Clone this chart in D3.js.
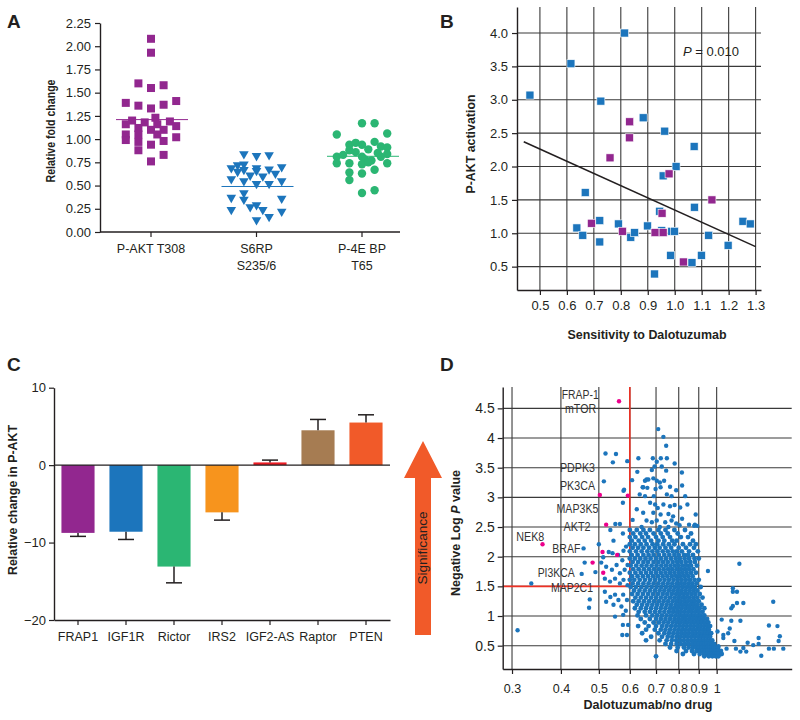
<!DOCTYPE html>
<html><head><meta charset="utf-8">
<script src="https://cdn.jsdelivr.net/npm/d3@7"></script>
<style>body{margin:0;background:#fff}svg{display:block}</style>
</head><body><svg id="c" width="800" height="720"></svg>
<script>
// ---------- Panel A data ----------
const aCatLines = [["P-AKT T308"], ["S6RP", "S235/6"], ["P-4E BP", "T65"]];
const aTicks = [0, 0.25, 0.5, 0.75, 1, 1.25, 1.5, 1.75, 2, 2.25];
// [swarm column, value]
const aktT308 = [[0,2.08],[0,1.93],[-2,1.60],[0,1.55],[2,1.58],[-4,1.39],[-2,1.36],[0,1.33],[2,1.37],[4,1.41],[0.7,1.23],[-3,1.20],[-4,1.16],[-1,1.18],[1,1.16],[3,1.19],[-2,1.12],[0,1.10],[2,1.10],[4,1.14],[-4,1.05],[-2,1.05],[1,1.05],[-4,0.99],[2,0.98],[4,1.02],[0,0.94],[-2,0.88],[2,0.83],[0,0.76],[-2,0.97]];
const s6rp = [[-2,0.84],[0,0.82],[2,0.83],[-4,0.69],[-2,0.73],[4,0.70],[-3,0.65],[-2,0.67],[-1,0.61],[0,0.66],[1,0.60],[2,0.675],[3,0.63],[-4,0.57],[-2,0.55],[0,0.52],[2,0.52],[4,0.55],[-4,0.37],[-2,0.42],[-2,0.35],[-1,0.27],[0,0.29],[1,0.24],[4,0.36],[-4,0.24],[4,0.22],[2,0.165],[0,0.13],[0,0.69],[-3,0.72]];
const p4ebp = [[0,1.17],[2,1.17],[-4,1.05],[4,1.06],[-2,0.94],[-1,0.96],[0,0.94],[2,0.97],[3,0.92],[4,0.91],[-2,0.88],[-1,0.86],[1,0.89],[2.5,0.85],[4,0.84],[-4,0.81],[-3,0.83],[0,0.81],[0.5,0.78],[1.5,0.77],[3,0.81],[-4,0.74],[-2,0.74],[0,0.73],[1,0.75],[4,0.74],[-2,0.64],[0,0.63],[2,0.67],[-2,0.56],[0,0.42],[2,0.45]];
const aMedians = [1.21, 0.49, 0.815];

// ---------- Panel B data ----------
const bXTicks = [0.5,0.6,0.7,0.8,0.9,1.0,1.1,1.2,1.3];
const bYTicks = [0.5,1.0,1.5,2.0,2.5,3.0,3.5,4.0];
const bBlue = [[0.463,3.07],[0.615,3.54],[0.814,4.00],[0.726,2.98],[0.883,2.73],[0.963,2.53],[1.072,2.30],[1.005,2.00],[0.957,1.86],[0.668,1.61],[1.073,1.39],[0.944,1.33],[0.637,1.08],[0.659,0.97],[0.722,1.19],[0.722,0.87],[0.791,1.14],[0.837,0.94],[0.851,1.01],[0.899,1.11],[0.952,1.04],[0.989,1.03],[0.999,1.03],[0.985,0.67],[0.925,0.39],[1.064,0.56],[1.099,0.67],[1.126,0.97],[1.198,0.82],[1.253,1.18],[1.280,1.14]];
const bPurple = [[0.833,2.67],[0.832,2.43],[0.760,2.13],[0.979,1.89],[1.138,1.50],[0.953,1.30],[0.691,1.15],[0.806,1.03],[0.927,1.01],[0.957,1.01],[1.032,0.57]];
const bTrendX = [0.44, 1.30];
const bTrendY = [2.37, 0.80];

// ---------- Panel C data ----------
const cGenes = ["FRAP1","IGF1R","Rictor","IRS2","IGF2-AS","Raptor","PTEN"];
const cValues = [-8.75, -8.6, -13.1, -6.1, 0.35, 4.5, 5.5];
const cErrEnds = [-9.2, -9.6, -15.2, -7.1, 0.65, 5.9, 6.5];
const cColors = ["#92278f","#1c75bc","#2bb673","#f7941d","#ed1c24","#a67c52","#f15a29"];
const cTicks = [10, 0, -10, -20];

// ---------- Panel D data ----------
const dXTicks = [0.3,0.4,0.5,0.6,0.7,0.8,0.9,1];
const dYTicks = [0.5,1,1.5,2,2.5,3,3.5,4,4.5];
const dThresholdX = 0.6, dThresholdY = 1.5;
const dHits = [[0.563,4.62],[0.503,3.04],[0.593,3.03],[0.522,2.54],[0.359,2.21],[0.511,2.08],[0.557,2.03],[0.482,1.90],[0.513,1.73]];
const dLabelText = ["FRAP-1","mTOR","PDPK3","PK3CA","MAP3K5","AKT2","NEK8","BRAF","PI3KCA","MAP2C1"];
const dLabelX = [0.448,0.449,0.441,0.441,0.441,0.440,0.334,0.413,0.389,0.427];
const dLabelY = [4.66,4.42,3.43,3.12,2.73,2.43,2.26,2.07,1.65,1.41];
const dSparse = [[0.553,3.73],[0.543,3.59],[0.591,3.61],[0.631,3.66],[0.52,3.74],[0.515,3.27],[0.627,3.43],[0.608,3.29],[0.662,3.30],[0.578,3.11],[0.647,3.17],[0.576,2.91],[0.58,3.13],[0.551,2.55],[0.566,2.55],[0.535,2.45],[0.545,2.27],[0.576,2.39],[0.530,2.08],[0.542,2.06],[0.50,2.21],[0.513,1.99],[0.507,1.90],[0.49,1.74],[0.457,2.14],[0.46,1.90],[0.452,1.71],[0.474,1.28],[0.472,1.14],[0.518,1.41],[0.535,1.32],[0.522,1.24],[0.336,1.55],[0.31,0.76],[0.574,0.68],[0.59,0.68],[0.576,0.85],[0.594,0.85],
[0.522,1.83],[0.54,1.78],[0.555,1.86],[0.566,1.72],[0.582,1.78],[0.592,1.86],[0.574,1.94],[0.518,1.63],[0.534,1.58],[0.55,1.63],[0.566,1.55],[0.578,1.61],[0.592,1.52],[0.55,1.36],[0.561,1.27],[0.577,1.36],[0.59,1.27],[0.545,1.19],[0.571,1.16],[0.586,1.09],[0.55,0.99],[0.577,1.02],[0.56,2.03],[0.578,2.10],[0.587,2.17],
[0.709,4.15],[0.731,4.02],[0.743,3.87],[0.687,3.66],[0.703,3.60],[0.720,3.66],[0.746,3.66],[0.781,3.57],[0.694,3.52],[0.683,3.46],[0.724,3.52],[0.743,3.45],[0.815,3.42],[0.656,3.28],[0.669,3.30],[0.689,3.32],[0.703,3.28],[0.716,3.25],[0.734,3.28],[0.649,3.17],[0.665,3.16],[0.698,3.14],[0.719,3.17],[0.76,3.18],[0.788,3.12],[0.816,3.20],[0.636,3.05],[0.656,3.02],[0.691,3.02],[0.746,3.05],[0.767,3.02],[0.831,3.02],
[0.676,2.91],[0.696,2.88],[0.707,2.82],[0.731,2.88],[0.76,2.85],[0.781,2.87],[0.807,2.83],[0.842,2.88],[0.649,2.74],[0.689,2.74],[0.719,2.71],[0.753,2.72],[0.774,2.68],[0.884,2.71],[0.816,2.64],[0.662,2.61],[0.683,2.58],[0.703,2.61],[0.739,2.58],[0.767,2.61],[0.788,2.56],[0.85,2.54],[0.876,2.52],[0.892,2.52],[0.643,2.50],[0.716,2.50],[0.753,2.50],[0.804,2.53],[0.61,2.62],[0.625,2.80],[0.88,2.54],
[1.143,1.88],[0.95,1.76],[1.10,1.47],[1.127,1.41],[1.10,1.41],[1.127,1.22],[1.17,1.22],[1.10,1.17],[1.09,1.13],[1.395,1.24],[1.09,0.92],[1.15,0.92],[1.03,0.94],[1.36,0.84],[1.43,0.83],[1.08,0.79],[1.005,0.74],[1.04,0.68],[1.45,0.66],[1.28,0.63],[1.11,0.58],[1.44,0.58],[1.01,0.49],[1.06,0.45],[1.12,0.45],[1.17,0.46],[1.24,0.51],[1.28,0.53],[1.36,0.45],[1.40,0.45],[1.48,0.45],[1.30,0.33],[1.15,0.40],[1.19,0.40],[1.07,0.71],[1.20,0.55],[1.04,0.63]];
// dense core, rows of [y, [x values]]
const dRows = [
 [2.45,[0.60,0.625,0.65,0.675,0.71,0.74,0.78,0.83]],
 [2.39,[0.612,0.638,0.66,0.69,0.72,0.75,0.795,0.86]],
 [2.33,[0.60,0.62,0.645,0.668,0.70,0.728,0.76,0.81,0.845]],
 [2.27,[0.607,0.632,0.655,0.68,0.71,0.735,0.77,0.79,0.87]],
 [2.21,[0.60,0.618,0.64,0.662,0.686,0.705,0.73,0.755,0.78,0.82,0.855,0.885]],
 [2.15,[0.61,0.63,0.65,0.672,0.695,0.715,0.74,0.765,0.80,0.835,0.875]],
 [2.09,[0.60,0.622,0.643,0.665,0.685,0.706,0.728,0.75,0.772,0.79,0.815,0.85,0.895]],
 [2.03,[0.607,0.628,0.65,0.67,0.69,0.712,0.735,0.757,0.78,0.80,0.825,0.845,0.87]],
 [1.97,[0.60,0.618,0.638,0.658,0.678,0.70,0.72,0.742,0.764,0.786,0.805,0.828,0.85,0.878,0.90]],
 [1.91,[0.61,0.63,0.65,0.668,0.69,0.71,0.73,0.75,0.772,0.793,0.812,0.834,0.856,0.88]],
 [1.85,[0.603,0.623,0.643,0.662,0.682,0.702,0.722,0.742,0.762,0.782,0.80,0.82,0.84,0.86,0.89]],
 [1.79,[0.612,0.632,0.652,0.672,0.692,0.712,0.732,0.752,0.77,0.79,0.81,0.83,0.85,0.872]],
 [1.73,[0.60,0.62,0.64,0.66,0.68,0.70,0.72,0.74,0.76,0.78,0.80,0.818,0.838,0.86,0.885]],
 [1.67,[0.608,0.628,0.648,0.668,0.688,0.708,0.728,0.748,0.768,0.788,0.806,0.826,0.846,0.868]],
 [1.61,[0.60,0.616,0.636,0.656,0.676,0.696,0.716,0.736,0.756,0.776,0.795,0.814,0.834,0.855,0.878,0.90]],
 [1.55,[0.61,0.63,0.65,0.67,0.69,0.71,0.73,0.75,0.77,0.79,0.808,0.826,0.846,0.866,0.888]],
 [1.49,[0.603,0.622,0.642,0.662,0.682,0.702,0.722,0.742,0.762,0.782,0.80,0.82,0.84,0.86,0.88,0.91]],
 [1.43,[0.615,0.635,0.655,0.675,0.695,0.715,0.735,0.755,0.775,0.794,0.812,0.832,0.852,0.872,0.892]],
 [1.37,[0.608,0.628,0.648,0.668,0.688,0.708,0.728,0.748,0.768,0.788,0.806,0.824,0.842,0.862,0.882,0.905]],
 [1.31,[0.62,0.64,0.66,0.68,0.70,0.72,0.74,0.76,0.78,0.798,0.816,0.834,0.852,0.872,0.892,0.92]],
 [1.25,[0.612,0.632,0.652,0.672,0.692,0.712,0.732,0.752,0.772,0.79,0.808,0.826,0.844,0.862,0.88,0.90]],
 [1.19,[0.625,0.645,0.665,0.685,0.705,0.725,0.745,0.765,0.785,0.802,0.82,0.838,0.856,0.874,0.892,0.915]],
 [1.13,[0.618,0.64,0.66,0.68,0.70,0.72,0.74,0.76,0.778,0.796,0.814,0.832,0.85,0.868,0.886,0.905,0.93]],
 [1.07,[0.632,0.655,0.675,0.695,0.715,0.735,0.755,0.774,0.792,0.81,0.828,0.846,0.864,0.882,0.90,0.92]],
 [1.01,[0.628,0.66,0.685,0.705,0.725,0.745,0.765,0.784,0.802,0.82,0.838,0.856,0.874,0.892,0.91,0.93]],
 [0.95,[0.64,0.675,0.70,0.72,0.74,0.76,0.78,0.798,0.816,0.834,0.852,0.87,0.888,0.906,0.924,0.945]],
 [0.89,[0.655,0.69,0.712,0.732,0.752,0.772,0.79,0.808,0.826,0.844,0.862,0.88,0.898,0.916,0.934,0.952]],
 [0.83,[0.63,0.67,0.70,0.725,0.745,0.765,0.784,0.802,0.82,0.838,0.856,0.874,0.892,0.91,0.928,0.946,0.962]],
 [0.77,[0.66,0.695,0.72,0.74,0.76,0.78,0.798,0.816,0.834,0.852,0.87,0.888,0.906,0.924,0.94,0.955]],
 [0.71,[0.645,0.71,0.735,0.755,0.775,0.794,0.812,0.83,0.848,0.866,0.884,0.902,0.92,0.936,0.952,0.968]],
 [0.65,[0.68,0.725,0.75,0.77,0.79,0.808,0.826,0.844,0.862,0.88,0.898,0.914,0.93,0.946,0.962]],
 [0.59,[0.66,0.715,0.745,0.768,0.788,0.806,0.824,0.842,0.86,0.878,0.896,0.912,0.928,0.944,0.958,0.974]],
 [0.53,[0.74,0.765,0.79,0.81,0.83,0.848,0.866,0.884,0.90,0.916,0.93,0.944,0.958,0.972,0.986]],
 [0.47,[0.76,0.795,0.825,0.848,0.868,0.886,0.902,0.918,0.932,0.945,0.958,0.97,0.982,0.994,1.008]],
 [0.41,[0.79,0.835,0.865,0.888,0.906,0.922,0.936,0.948,0.96,0.972,0.984,0.996,1.01,1.025]],
 [0.36,[0.82,0.875,0.905,0.928,0.945,0.96,0.974,0.986,0.998,1.012,1.03]],
 [0.32,[0.70,0.93,0.955,0.975,0.995,1.01]]
];

// ---------- drawing ----------
const FONT = "'Liberation Sans', Arial, Helvetica, sans-serif";
const INK = "#231f20";
const PURPLE = "#92278f", BLUE = "#1c75bc", GREEN = "#2bb673", ORANGE = "#f15a29", RED = "#ee3124", PINK = "#ec008c";
const svg = d3.select("#c");

function styleAxis(g, fs) {
  g.attr("font-family", FONT).attr("font-size", fs);
  g.select(".domain").attr("stroke", INK).attr("stroke-width", 1.4);
  g.selectAll(".tick line").attr("stroke", INK).attr("stroke-width", 1.2);
  g.selectAll(".tick text").attr("fill", INK);
}
function panelLetter(t, x, y) {
  svg.append("text").attr("x", x).attr("y", y).text(t)
    .attr("font-family", FONT).attr("font-weight", "bold").attr("font-size", 19).attr("fill", INK);
}
function vLabel(parts, x, y, len, fs, bold) {
  const t = svg.append("text").attr("transform", `translate(${x},${y}) rotate(-90)`)
    .attr("text-anchor", "middle").attr("font-family", FONT).attr("font-size", fs)
    .attr("font-weight", bold ? "bold" : "normal").attr("fill", INK)
    .attr("textLength", len).attr("lengthAdjust", "spacingAndGlyphs");
  parts.forEach(p => t.append("tspan").text(p[0]).attr("font-style", p[1] ? "italic" : null));
  return t;
}
function hLabel(parts, x, y, len, fs, bold) {
  const t = svg.append("text").attr("x", x).attr("y", y)
    .attr("text-anchor", "middle").attr("font-family", FONT).attr("font-size", fs)
    .attr("font-weight", bold ? "bold" : "normal").attr("fill", INK);
  if (len) t.attr("textLength", len).attr("lengthAdjust", "spacingAndGlyphs");
  parts.forEach(p => t.append("tspan").text(p[0]).attr("font-style", p[1] ? "italic" : null));
  return t;
}

// ===== Panel A =====
{
  const y = d3.scaleLinear().domain([0, 2.25]).range([232, 23]);
  const x = d3.scalePoint().domain([0, 1, 2]).range([151, 362]);
  const colW = 6.3;
  const g = svg.append("g");
  const ya = g.append("g").attr("transform", "translate(100,0)")
    .call(d3.axisLeft(y).tickValues(aTicks).tickFormat(d3.format(".2f")).tickSize(5).tickSizeOuter(0).tickPadding(4));
  styleAxis(ya, 13);
  g.append("line").attr("x1", 100).attr("x2", 400).attr("y1", 232).attr("y2", 232).attr("stroke", INK).attr("stroke-width", 1.4);
  aCatLines.forEach((lines, i) => {
    g.append("line").attr("x1", x(i)).attr("x2", x(i)).attr("y1", 232).attr("y2", 237).attr("stroke", INK).attr("stroke-width", 1.2);
    lines.forEach((l, j) => g.append("text").attr("x", x(i)).attr("y", 253 + j * 16.7).attr("text-anchor", "middle")
      .attr("font-family", FONT).attr("font-size", 12.5).attr("fill", INK).text(l));
  });
  const mColors = [PURPLE, BLUE, GREEN];
  aMedians.forEach((m, i) => g.append("line").attr("x1", x(i) - 35).attr("x2", x(i) + 37).attr("y1", y(m)).attr("y2", y(m))
    .attr("stroke", mColors[i]).attr("stroke-width", 1));
  g.selectAll(".sq").data(aktT308).enter().append("rect")
    .attr("x", d => x(0) + d[0] * colW - 4).attr("y", d => y(d[1]) - 4).attr("width", 8).attr("height", 8).attr("fill", PURPLE);
  const tri = d3.symbol().type(d3.symbolTriangle).size(40);
  g.selectAll(".tr").data(s6rp).enter().append("path").attr("d", tri)
    .attr("transform", d => `translate(${x(1) + d[0] * colW},${y(d[1])}) rotate(180)`).attr("fill", BLUE);
  g.selectAll(".ci").data(p4ebp).enter().append("circle")
    .attr("cx", d => x(2) + d[0] * colW).attr("cy", d => y(d[1])).attr("r", 4.2).attr("fill", GREEN);
  vLabel([["Relative fold change"]], 55, 131, 103, 13, true);
  panelLetter("A", 7, 28);
}

// ===== Panel B =====
{
  const x = d3.scaleLinear().domain([0.415, 1.32]).range([517, 761]);
  const y = d3.scaleLinear().domain([0.15, 4.39]).range([290, 7]);
  const g = svg.append("g");
  bXTicks.forEach(t => g.append("line").attr("x1", x(t)).attr("x2", x(t)).attr("y1", 7).attr("y2", 290).attr("stroke", "#3a3a3a").attr("stroke-width", 1.1));
  bYTicks.forEach(t => g.append("line").attr("x1", 517).attr("x2", 761).attr("y1", y(t)).attr("y2", y(t)).attr("stroke", "#3a3a3a").attr("stroke-width", 1.1));
  const ya = g.append("g").attr("transform", "translate(517,0)")
    .call(d3.axisLeft(y).tickValues(bYTicks).tickFormat(d3.format(".1f")).tickSize(5).tickSizeOuter(0).tickPadding(4));
  styleAxis(ya, 13);
  const xa = g.append("g").attr("transform", "translate(0,290)")
    .call(d3.axisBottom(x).tickValues(bXTicks).tickFormat(d3.format(".1f")).tickSize(5).tickSizeOuter(0).tickPadding(6));
  styleAxis(xa, 13);
  g.selectAll(".bb").data(bBlue).enter().append("rect")
    .attr("x", d => x(d[0]) - 4).attr("y", d => y(d[1]) - 4).attr("width", 8).attr("height", 8)
    .attr("fill", BLUE).attr("stroke", "#fff").attr("stroke-width", 0.6);
  g.selectAll(".bp").data(bPurple).enter().append("rect")
    .attr("x", d => x(d[0]) - 4).attr("y", d => y(d[1]) - 4).attr("width", 8).attr("height", 8)
    .attr("fill", PURPLE).attr("stroke", "#fff").attr("stroke-width", 0.6);
  g.append("line").attr("x1", x(bTrendX[0])).attr("y1", y(bTrendY[0])).attr("x2", x(bTrendX[1])).attr("y2", y(bTrendY[1]))
    .attr("stroke", INK).attr("stroke-width", 1.6);
  const pt = g.append("text").attr("x", 683).attr("y", 56).attr("font-family", FONT).attr("font-size", 13).attr("fill", INK);
  pt.append("tspan").attr("font-style", "italic").text("P");
  pt.append("tspan").text(" = 0.010");
  vLabel([["P-AKT activation"]], 475, 144, 99, 13, true);
  hLabel([["Sensitivity to Dalotuzumab"]], 647, 339, 159, 13, true);
  panelLetter("B", 440, 28);
}

// ===== Panel C =====
{
  const y = d3.scaleLinear().domain([-20, 10]).range([620, 387.7]);
  const x = d3.scaleBand().domain(cGenes).range([54, 390]).paddingInner(0.31).paddingOuter(0.155);
  const g = svg.append("g");
  const ya = g.append("g").attr("transform", "translate(54,0)")
    .call(d3.axisLeft(y).tickValues(cTicks).tickSize(5).tickSizeOuter(0).tickPadding(3));
  styleAxis(ya, 13);
  const xa = g.append("g").attr("transform", "translate(0,620)")
    .call(d3.axisBottom(x).tickSize(5).tickSizeOuter(0).tickPadding(7));
  styleAxis(xa, 12.5);
  g.selectAll(".bar").data(cGenes).enter().append("rect")
    .attr("x", d => x(d)).attr("width", x.bandwidth())
    .attr("y", (d, i) => Math.min(y(0), y(cValues[i])))
    .attr("height", (d, i) => Math.abs(y(cValues[i]) - y(0)))
    .attr("fill", (d, i) => cColors[i]);
  cGenes.forEach((d, i) => {
    const cx = x(d) + x.bandwidth() / 2;
    g.append("line").attr("x1", cx).attr("x2", cx).attr("y1", y(cValues[i])).attr("y2", y(cErrEnds[i])).attr("stroke", INK).attr("stroke-width", 1.5);
    g.append("line").attr("x1", cx - 8).attr("x2", cx + 8).attr("y1", y(cErrEnds[i])).attr("y2", y(cErrEnds[i])).attr("stroke", INK).attr("stroke-width", 1.5);
  });
  g.append("line").attr("x1", 54).attr("x2", 390).attr("y1", y(0)).attr("y2", y(0)).attr("stroke", INK).attr("stroke-width", 1.4);
  vLabel([["Relative change in P-AKT"]], 17, 500, 150, 13, true);
  panelLetter("C", 7, 371);
}

// ===== Significance arrow =====
{
  const pts = [[423,441],[442,478],[431,478],[431,635],[415,635],[415,478],[404,478]];
  svg.append("path").attr("d", d3.line()(pts) + "Z").attr("fill", ORANGE);
  vLabel([["Significance"]], 427, 548, 73, 13, false);
}

// ===== Panel D =====
{
  const x = d3.scaleLog().domain([0.284, 1.555]).range([502.7, 791.7]);
  const y = d3.scaleLinear().domain([0.107, 4.86]).range([669, 387]);
  const g = svg.append("g");
  dXTicks.forEach(t => g.append("line").attr("x1", x(t)).attr("x2", x(t)).attr("y1", 387).attr("y2", 669).attr("stroke", "#3a3a3a").attr("stroke-width", 1.1));
  dYTicks.forEach(t => g.append("line").attr("x1", 502.7).attr("x2", 791.7).attr("y1", y(t)).attr("y2", y(t)).attr("stroke", "#3a3a3a").attr("stroke-width", 1.1));
  g.append("line").attr("x1", x(dThresholdX)).attr("x2", x(dThresholdX)).attr("y1", 387).attr("y2", y(dThresholdY)).attr("stroke", RED).attr("stroke-width", 1.6);
  g.append("line").attr("x1", 502.7).attr("x2", x(dThresholdX)).attr("y1", y(dThresholdY)).attr("y2", y(dThresholdY)).attr("stroke", RED).attr("stroke-width", 1.6);
  const ya = g.append("g").attr("transform", "translate(502.7,0)")
    .call(d3.axisLeft(y).tickValues(dYTicks).tickFormat(d => String(d)).tickSize(5).tickSizeOuter(0).tickPadding(3));
  styleAxis(ya, 14);
  const xa = g.append("g").attr("transform", "translate(0,669)")
    .call(d3.axisBottom(x).tickValues(dXTicks).tickFormat(d => String(d)).tickSize(5).tickSizeOuter(0).tickPadding(10));
  styleAxis(xa, 12.5);
  const core = [];
  dRows.forEach(r => r[1].forEach(v => core.push([v, r[0]])));
  g.selectAll(".dc").data(core).enter().append("circle")
    .attr("cx", d => x(d[0])).attr("cy", d => y(d[1])).attr("r", 2.45).attr("fill", BLUE);
  g.selectAll(".dp").data(dSparse).enter().append("circle")
    .attr("cx", d => x(d[0])).attr("cy", d => y(d[1])).attr("r", 2.2).attr("fill", BLUE);
  g.selectAll(".dh").data(dHits).enter().append("circle")
    .attr("cx", d => x(d[0])).attr("cy", d => y(d[1])).attr("r", 2.2).attr("fill", PINK);
  const lw = [37, 31, 35, 35, 42, 27, 28, 28, 37, 42];
  dLabelText.forEach((t, i) => g.append("text").attr("x", x(dLabelX[i])).attr("y", y(dLabelY[i]))
    .attr("text-anchor", "middle").attr("font-family", FONT).attr("font-size", 12.5).attr("fill", "#333")
    .attr("textLength", lw[i]).attr("lengthAdjust", "spacingAndGlyphs").text(t));
  vLabel([["Negative Log "], ["P", true], [" value"]], 460, 533, 126, 13, true);
  hLabel([["Dalotuzumab/no drug"]], 648, 709, 129, 13, true);
  panelLetter("D", 440, 371);
}
</script></body></html>
